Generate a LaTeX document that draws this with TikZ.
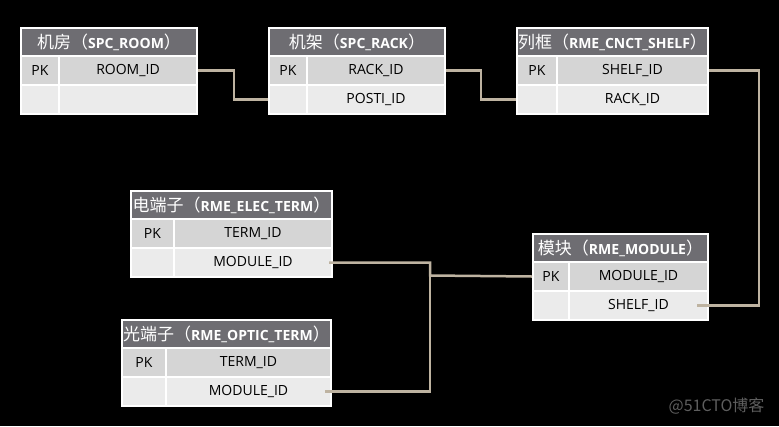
\documentclass[tikz,border=0pt]{standalone}
\usepackage{fontspec}
\setmainfont{Open Sans}
\newfontfamily\cjk{Noto Sans CJK SC}
\usetikzlibrary{arrows,shapes,calc,positioning}

\definecolor{hdrgray}{HTML}{6E6D72}
\definecolor{rowone}{HTML}{D5D5D5}
\definecolor{rowtwo}{HTML}{EBEBEB}
\definecolor{linkcol}{HTML}{BEB3A1}
\definecolor{markgray}{HTML}{5E5E5E}

\tikzset{
	cell/.style={draw=white, line width=2pt, inner sep=0pt, anchor=north west,
		minimum height=29pt, font=\fontsize{14}{14}\selectfont, text=black},
	hdr/.style={cell, fill=hdrgray, text=white, minimum height=28pt},
	rowa/.style={cell, fill=rowone},
	rowb/.style={cell, fill=rowtwo},
	link/.style={draw=linkcol, line width=2.5pt}
}
\newcommand{\hdrtext}[2]{{\cjk\fontsize{17}{17}\selectfont #1（}{\bfseries #2}{\cjk\fontsize{17}{17}\selectfont ）}}

\begin{document}
\begin{tikzpicture}[x=1pt, y=-1pt]
	\fill[black] (0,0) rectangle (779,426);
	\useasboundingbox (0,0) rectangle (779,426);
	% room
	\node [hdr, minimum width=176pt] (room) at (20,27) {\hdrtext{机房}{SPC\_ROOM}};
	\node [rowa, minimum width=38pt] (room-pk) at (20,55) {PK};
	\node [rowa, minimum width=138pt] (room-id) at (58,55) {ROOM\_ID};
	\node [rowb, minimum width=38pt] (room-r2) at (20,84) {};
	\node [rowb, minimum width=138pt] (room-f2) at (58,84) {};
	% rack
	\node [hdr, minimum width=176pt] (rack) at (268,27) {\hdrtext{机架}{SPC\_RACK}};
	\node [rowa, minimum width=38pt] (rack-pk) at (268,55) {PK};
	\node [rowa, minimum width=138pt] (rack-id) at (306,55) {RACK\_ID};
	\node [rowb, minimum width=38pt] (rack-r2) at (268,84) {};
	\node [rowb, minimum width=138pt] (rack-posti) at (306,84) {POSTI\_ID};
	% shelf
	\node [hdr, minimum width=191pt] (shelf) at (516,27) {\hdrtext{列框}{RME\_CNCT\_SHELF}};
	\node [rowa, minimum width=40pt] (shelf-pk) at (516,55) {PK};
	\node [rowa, minimum width=151pt] (shelf-id) at (556,55) {SHELF\_ID};
	\node [rowb, minimum width=40pt] (shelf-r2) at (516,84) {};
	\node [rowb, minimum width=151pt] (shelf-rack) at (556,84) {RACK\_ID};
	% elec term
	\node [hdr, minimum width=201pt] (elec) at (130,190) {\hdrtext{电端子}{RME\_ELEC\_TERM}};
	\node [rowa, minimum width=43pt] (elec-pk) at (130,218) {PK};
	\node [rowa, minimum width=158pt] (elec-id) at (173,218) {TERM\_ID};
	\node [rowb, minimum width=43pt] (elec-r2) at (130,247) {};
	\node [rowb, minimum width=158pt] (elec-mod) at (173,247) {MODULE\_ID};
	% module
	\node [hdr, minimum width=175pt] (module) at (532,233) {\hdrtext{模块}{RME\_MODULE}};
	\node [rowa, minimum width=36pt] (module-pk) at (532,261) {PK};
	\node [rowa, minimum width=139pt] (module-id) at (568,261) {MODULE\_ID};
	\node [rowb, minimum width=36pt] (module-r2) at (532,290) {};
	\node [rowb, minimum width=139pt] (module-shelf) at (568,290) {SHELF\_ID};
	% optic term
	\node [hdr, minimum width=209pt] (optic) at (121,319) {\hdrtext{光端子}{RME\_OPTIC\_TERM}};
	\node [rowa, minimum width=44pt] (optic-pk) at (121,347) {PK};
	\node [rowa, minimum width=165pt] (optic-id) at (165,347) {TERM\_ID};
	\node [rowb, minimum width=44pt] (optic-r2) at (121,376) {};
	\node [rowb, minimum width=165pt] (optic-mod) at (165,376) {MODULE\_ID};
	% links
	\coordinate (bus) at (430,275.5);
	\draw [link] (room-id.east) -- ++(36,0) |- (rack-r2.west);
	\draw [link] (rack-id.east) -- ++(35,0) |- (shelf-r2.west);
	\draw [link, shorten >=-12pt] (shelf-id.east) -- ++(50,0) |- (module-shelf.east);
	\draw [link, shorten <=-4pt] (elec-mod.east) -| (bus) -- (module-pk.west);
	\draw [link, shorten <=-7pt, shorten >=-1pt] (optic-mod.east) -| (bus);
	\node [font=\cjk\fontsize{16}{16}\selectfont, text=markgray, anchor=east] (mark) at (768,406) {@51CTO博客};
\end{tikzpicture}
\end{document}
